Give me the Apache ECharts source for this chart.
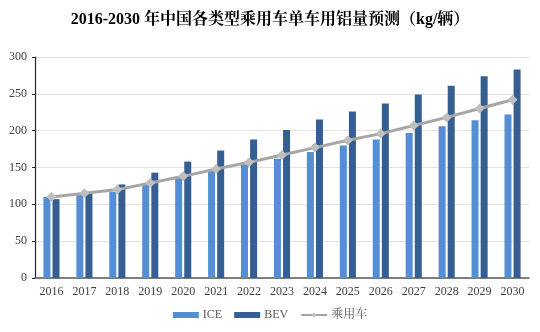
<!DOCTYPE html>
<html>
<head>
<meta charset="utf-8">
<script src="https://cdn.jsdelivr.net/npm/echarts@6/dist/echarts.min.js"></script>
<style>
  html, body { margin: 0; padding: 0; background: #fff; }
  #chart { width: 540px; height: 332px; }
</style>
</head>
<body>
<div id="chart"></div>
<script>
// Years on the category axis
const years = ['2016','2017','2018','2019','2020','2021','2022','2023','2024','2025','2026','2027','2028','2029','2030'];
// Aluminium per vehicle, kg
const iceValues = [110, 115, 117, 127, 136, 145, 154, 162, 171, 180, 188, 197, 206, 214, 222];
const bevValues = [107, 115, 127, 143, 158, 173, 188, 201, 215, 226, 237, 249, 261, 274, 283];
const carValues = [110, 115, 120, 129, 138, 148, 157, 167, 177, 187, 196, 207, 218, 230, 242];
const yTicks = [0, 50, 100, 150, 200, 250, 300];

const serif = '"Liberation Serif", "Times New Roman", "Noto Serif CJK SC", "Noto Sans CJK SC", serif';

const chart = echarts.init(document.getElementById('chart'));
chart.setOption({
  animation: false,
  backgroundColor: '#ffffff',
  title: {
    text: '2016-2030 年中国各类型乘用车单车用铝量预测（kg/辆）',
    left: 'center',
    top: 7,
    textStyle: { fontFamily: serif, fontSize: 16, fontWeight: 'bold', color: '#000' }
  },
  legend: {
    bottom: 6,
    left: 'center',
    itemGap: 12,
    itemWidth: 26,
    itemHeight: 6,
    textStyle: { fontFamily: serif, fontSize: 12, color: '#595959', padding: [0, 0, 0, -1] },
    data: [
      { name: 'ICE', icon: 'rect' },
      { name: 'BEV', icon: 'rect' },
      { name: '乘用车' }
    ]
  },
  grid: { left: 35, right: 11, top: 57, bottom: 54, containLabel: false },
  xAxis: {
    type: 'category',
    data: years,
    axisLine: { lineStyle: { color: '#595959', width: 1.5 } },
    axisTick: { show: false },
    axisLabel: { fontFamily: serif, fontSize: 12, color: '#404040', margin: 8 }
  },
  yAxis: {
    type: 'value',
    min: yTicks[0],
    max: yTicks[yTicks.length - 1],
    interval: 50,
    axisLine: { show: true, lineStyle: { color: '#262626', width: 1.2 } },
    axisTick: { show: true, length: 3, lineStyle: { color: '#262626' } },
    axisLabel: { fontFamily: serif, fontSize: 12, color: '#404040', margin: 8 },
    splitLine: { lineStyle: { color: '#e3e3e3', width: 1 } }
  },
  series: [
    {
      name: 'ICE', type: 'bar', data: iceValues,
      barWidth: 7, barGap: '30%',
      itemStyle: { color: '#558ed5' }
    },
    {
      name: 'BEV', type: 'bar', data: bevValues,
      barWidth: 7, barGap: '30%',
      itemStyle: { color: '#355f93' }
    },
    {
      name: '乘用车', type: 'line', data: carValues,
      symbol: 'diamond', symbolSize: 10,
      lineStyle: { color: '#a6a6a6', width: 3 },
      itemStyle: { color: '#bfbfbf' },
      z: 5
    }
  ]
});
</script>
</body>
</html>
